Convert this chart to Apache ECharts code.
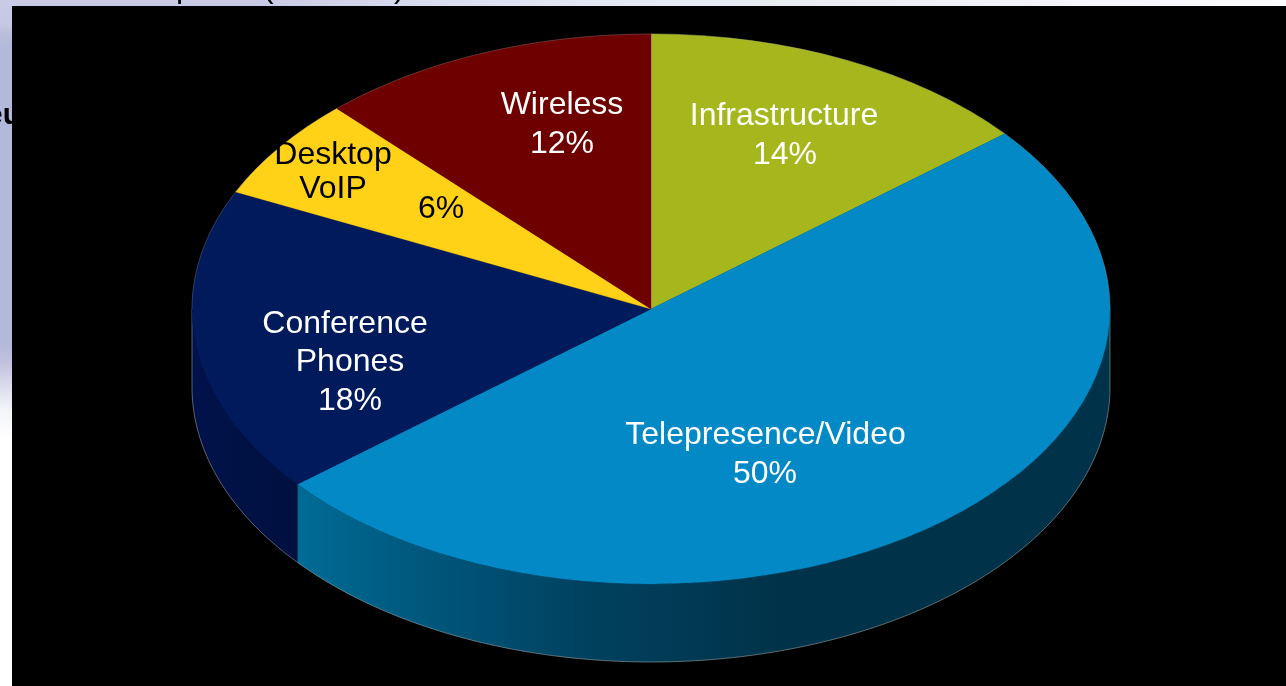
<!DOCTYPE html>
<html>
<head>
<meta charset="utf-8">
<style>html,body{margin:0;padding:0;background:#fff}#c{width:1286px;height:686px}</style>
<script src="https://cdn.jsdelivr.net/npm/echarts@6/dist/echarts.min.js"></script>
</head>
<body>
<div id="c"></div>
<script>
// Data, clockwise from 12 o'clock
var categories = ['Infrastructure', 'Telepresence/Video', 'Conference\nPhones', 'Desktop\nVoIP', 'Wireless'];
var values = [14, 50, 18, 6, 12];
var topColors = ['#a6b71e', '#0389c6', '#001a5b', '#ffd218', '#6f0000'];
var labelColors = ['#fff', '#fff', '#fff', '#000', '#fff'];

// Layout
var CX = 651, CY = 309, RX = 459, RY = 275, DEPTH = 78;
var FONT = '"Liberation Sans", Arial, sans-serif';
var nameAnchors = [
  [[784, 116]],
  [[765.5, 435]],
  [[345, 324], [350, 362]],
  [[333, 155], [333, 189]],
  [[562, 105]]
];
var pctAnchors = [[785, 155], [765, 474], [350, 401], [441, 209], [562, 144]];
var wallGradients = [
  null,
  [[0, '#006c96'], [0.22, '#005a80'], [0.6, '#00415f'], [1, '#003349']],
  [[0, '#00124a'], [1, '#00103f']],
  null, null
];

var total = values.reduce(function (a, b) { return a + b; }, 0);
function angleAt(i) {
  var s = 0;
  for (var k = 0; k < i; k++) s += values[k];
  return s / total * Math.PI * 2;
}
function pt(theta, dy) {
  return [CX + RX * Math.sin(theta), CY - RY * Math.cos(theta) + (dy || 0)];
}
function arcPoints(a, b, dy) {
  var n = Math.max(2, Math.ceil((b - a) / 0.01)), out = [];
  for (var i = 0; i <= n; i++) out.push(pt(a + (b - a) * i / n, dy));
  return out;
}
var HAIR = 'rgba(190,190,190,0.7)';

function renderSlice(params, api) {
  var i = api.value(0);
  var a = angleAt(i), b = angleAt(i + 1);
  var children = [];

  // side wall: only the part facing the viewer (right extreme to left extreme)
  var wa = Math.max(a, Math.PI / 2), wb = Math.min(b, Math.PI * 1.5);
  if (wb > wa) {
    var top = arcPoints(wa, wb, 0);
    var bot = arcPoints(wa, wb, DEPTH);
    var x0 = Math.min(top[0][0], top[top.length - 1][0]);
    var x1 = Math.max(top[0][0], top[top.length - 1][0]);
    var grad = wallGradients[i];
    var span = i === 1 ? 480 : (x1 - x0);
    children.push({
      type: 'polygon',
      shape: { points: top.concat(bot.slice().reverse()) },
      style: {
        fill: {
          type: 'linear', global: true,
          x: x0, y: 0, x2: x0 + span, y2: 0,
          colorStops: grad.map(function (s) { return { offset: s[0], color: s[1] }; })
        },
        stroke: null
      }
    });
    // hairline along the wall's lower edge and its outer vertical ends
    var edge = bot.slice();
    if (wa === Math.PI / 2) edge.unshift(pt(wa, 0));
    if (wb === Math.PI * 1.5) edge.push(pt(wb, 0));
    children.push({
      type: 'polyline',
      shape: { points: edge },
      style: { fill: null, stroke: HAIR, lineWidth: 0.7 }
    });
  }

  // top face: a sector squashed to the ellipse
  children.push({
    type: 'sector',
    x: CX, y: CY, scaleX: 1, scaleY: RY / RX,
    shape: {
      cx: 0, cy: 0, r0: 0, r: RX,
      startAngle: a - Math.PI / 2,
      endAngle: b - Math.PI / 2,
      clockwise: true
    },
    style: { fill: topColors[i], stroke: topColors[i], lineWidth: 0.4 }
  });

  // faint hairline on the back rim
  var r1 = Math.min(b, Math.PI / 2);
  if (r1 > a) children.push({ type: 'polyline', shape: { points: arcPoints(a, r1, 0) },
    style: { fill: null, stroke: 'rgba(190,190,190,0.45)', lineWidth: 0.6 } });
  var r2 = Math.max(a, Math.PI * 1.5);
  if (b > r2) children.push({ type: 'polyline', shape: { points: arcPoints(r2, b, 0) },
    style: { fill: null, stroke: 'rgba(190,190,190,0.45)', lineWidth: 0.6 } });

  return { type: 'group', children: children };
}

function renderLabel(params, api) {
  var i = api.value(0);
  var lines = categories[i].split('\n');
  var kids = [];
  lines.forEach(function (t, k) {
    kids.push({
      type: 'text', x: nameAnchors[i][k][0], y: nameAnchors[i][k][1],
      style: { text: t, fill: labelColors[i], font: '32px ' + FONT, align: 'center', verticalAlign: 'middle' }
    });
  });
  kids.push({
    type: 'text', x: pctAnchors[i][0], y: pctAnchors[i][1],
    style: { text: values[i] + '%', fill: labelColors[i], font: '32px ' + FONT, align: 'center', verticalAlign: 'middle' }
  });
  return { type: 'group', children: kids };
}

var rows = values.map(function (v, i) { return [i, v]; });
var chart = echarts.init(document.getElementById('c'), null, { renderer: 'canvas' });
chart.setOption({
  animation: false,
  backgroundColor: '#ffffff',
  graphic: [
    { type: 'rect', z: -10, shape: { x: 0, y: 0, width: 12, height: 686 },
      style: { fill: { type: 'linear', x: 0, y: 0, x2: 0, y2: 1, colorStops: [
        { offset: 0, color: '#c9cbe6' }, { offset: 0.035, color: '#c6c8e4' },
        { offset: 0.05, color: '#b9bdd8' }, { offset: 0.07, color: '#b3b9da' },
        { offset: 0.5, color: '#b3b9da' }, { offset: 0.53, color: '#c2c2de' },
        { offset: 0.57, color: '#dfe2f0' }, { offset: 0.6, color: '#f4f5fa' },
        { offset: 0.64, color: '#ffffff' }, { offset: 1, color: '#ffffff' }] } } },
    { type: 'rect', z: -10, shape: { x: 0, y: 0, width: 1286, height: 6 },
      style: { fill: { type: 'linear', x: 0, y: 0, x2: 1, y2: 0, colorStops: [
        { offset: 0, color: '#c9cbe6' }, { offset: 0.2, color: '#c9cbe6' },
        { offset: 0.32, color: '#d8dbec' }, { offset: 0.45, color: '#e4e6f3' },
        { offset: 0.65, color: '#ebedf3' }, { offset: 0.85, color: '#f5f5fa' },
        { offset: 1, color: '#fbfbfd' }] } } },
    { type: 'text', z: -9, x: 176, y: -28, style: { text: 'p', fill: '#000', font: '32px ' + FONT } },
    { type: 'text', z: -9, x: 263, y: -28, style: { text: '(', fill: '#000', font: '32px ' + FONT } },
    { type: 'text', z: -9, x: 394, y: -28, style: { text: ')', fill: '#000', font: '32px ' + FONT } },
    { type: 'text', z: -9, x: -14, y: 101, style: { text: 'eu', fill: '#000', font: 'bold 30px ' + FONT } },
    { type: 'rect', z: -8, shape: { x: 12, y: 6, width: 1274, height: 680 }, style: { fill: '#000' } }
  ],
  series: [
    { type: 'custom', coordinateSystem: 'none', silent: true, clip: false, z: 2,
      renderItem: renderSlice, data: rows },
    { type: 'custom', coordinateSystem: 'none', silent: true, clip: false, z: 3,
      renderItem: renderLabel, data: rows }
  ]
});
</script>
</body>
</html>
